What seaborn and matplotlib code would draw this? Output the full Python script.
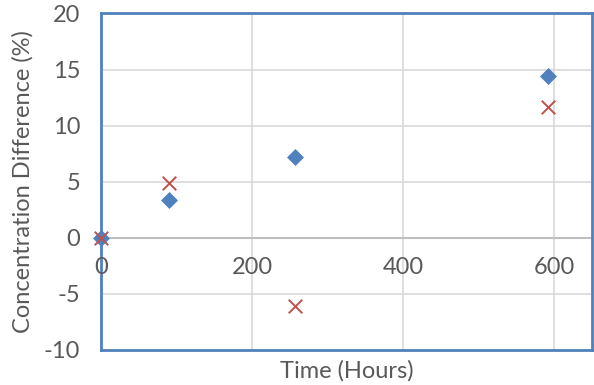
import numpy as np
import pandas as pd
import matplotlib
matplotlib.use('Agg')
import matplotlib.pyplot as plt
import seaborn as sns

# Данные
hours = [0, 90, 257, 592]
series_a = [0.0, 3.4, 7.2, 14.4]   # синие ромбы
series_b = [0.0, 4.9, -6.1, 11.7]  # красные крестики
x_ticks = [0, 200, 400, 600]
y_ticks = [-10, -5, 0, 5, 10, 15, 20]

df_a = pd.DataFrame({'hours': hours, 'diff': series_a})
df_b = pd.DataFrame({'hours': hours, 'diff': series_b})

sns.set_style('white')
plt.rcParams['font.family'] = ['Lato', 'DejaVu Sans']
plt.rcParams['axes.unicode_minus'] = False

text_color = '#595959'
blue = '#4F81BD'
red = '#C0504D'
fs = 17

fig = plt.figure(figsize=(5.94, 3.85), dpi=100)
ax = fig.add_axes([0.170, 0.091, 0.8266, 0.874])

ax.set_xlim(0, 650)
ax.set_ylim(-10, 20)
ax.set_xticks(x_ticks)
ax.set_yticks(y_ticks)
ax.grid(True, color='#d9d9d9', linewidth=1.2)
ax.set_axisbelow(True)
ax.axhline(0, color='#bfbfbf', linewidth=1.5, zorder=1)

sns.scatterplot(data=df_a, x='hours', y='diff', marker='D', s=75,
                color=blue, edgecolor=blue, linewidth=0, ax=ax, zorder=3, clip_on=False)
sns.scatterplot(data=df_b, x='hours', y='diff', marker='x', s=95,
                color=red, linewidth=1.4, ax=ax, zorder=4, clip_on=False)

for side in ['top', 'bottom', 'left', 'right']:
    ax.spines[side].set_color(blue)
    ax.spines[side].set_linewidth(2)

# подписи оси X рядом с нулевой линией, как в Excel
ax.tick_params(axis='x', labelbottom=False, length=0)
for t in x_ticks:
    ax.annotate(str(t), xy=(t, 0), xytext=(0, -14), textcoords='offset points',
                ha='center', va='top', fontsize=fs, color=text_color)

ax.tick_params(axis='y', length=0, labelsize=fs, labelcolor=text_color, pad=15)

ax.set_xlabel('Time (Hours)', fontsize=fs, color=text_color, labelpad=7)
ax.set_ylabel('Concentration Difference (%)', fontsize=fs, color=text_color, labelpad=7)

fig.savefig('out.png', dpi=100)
